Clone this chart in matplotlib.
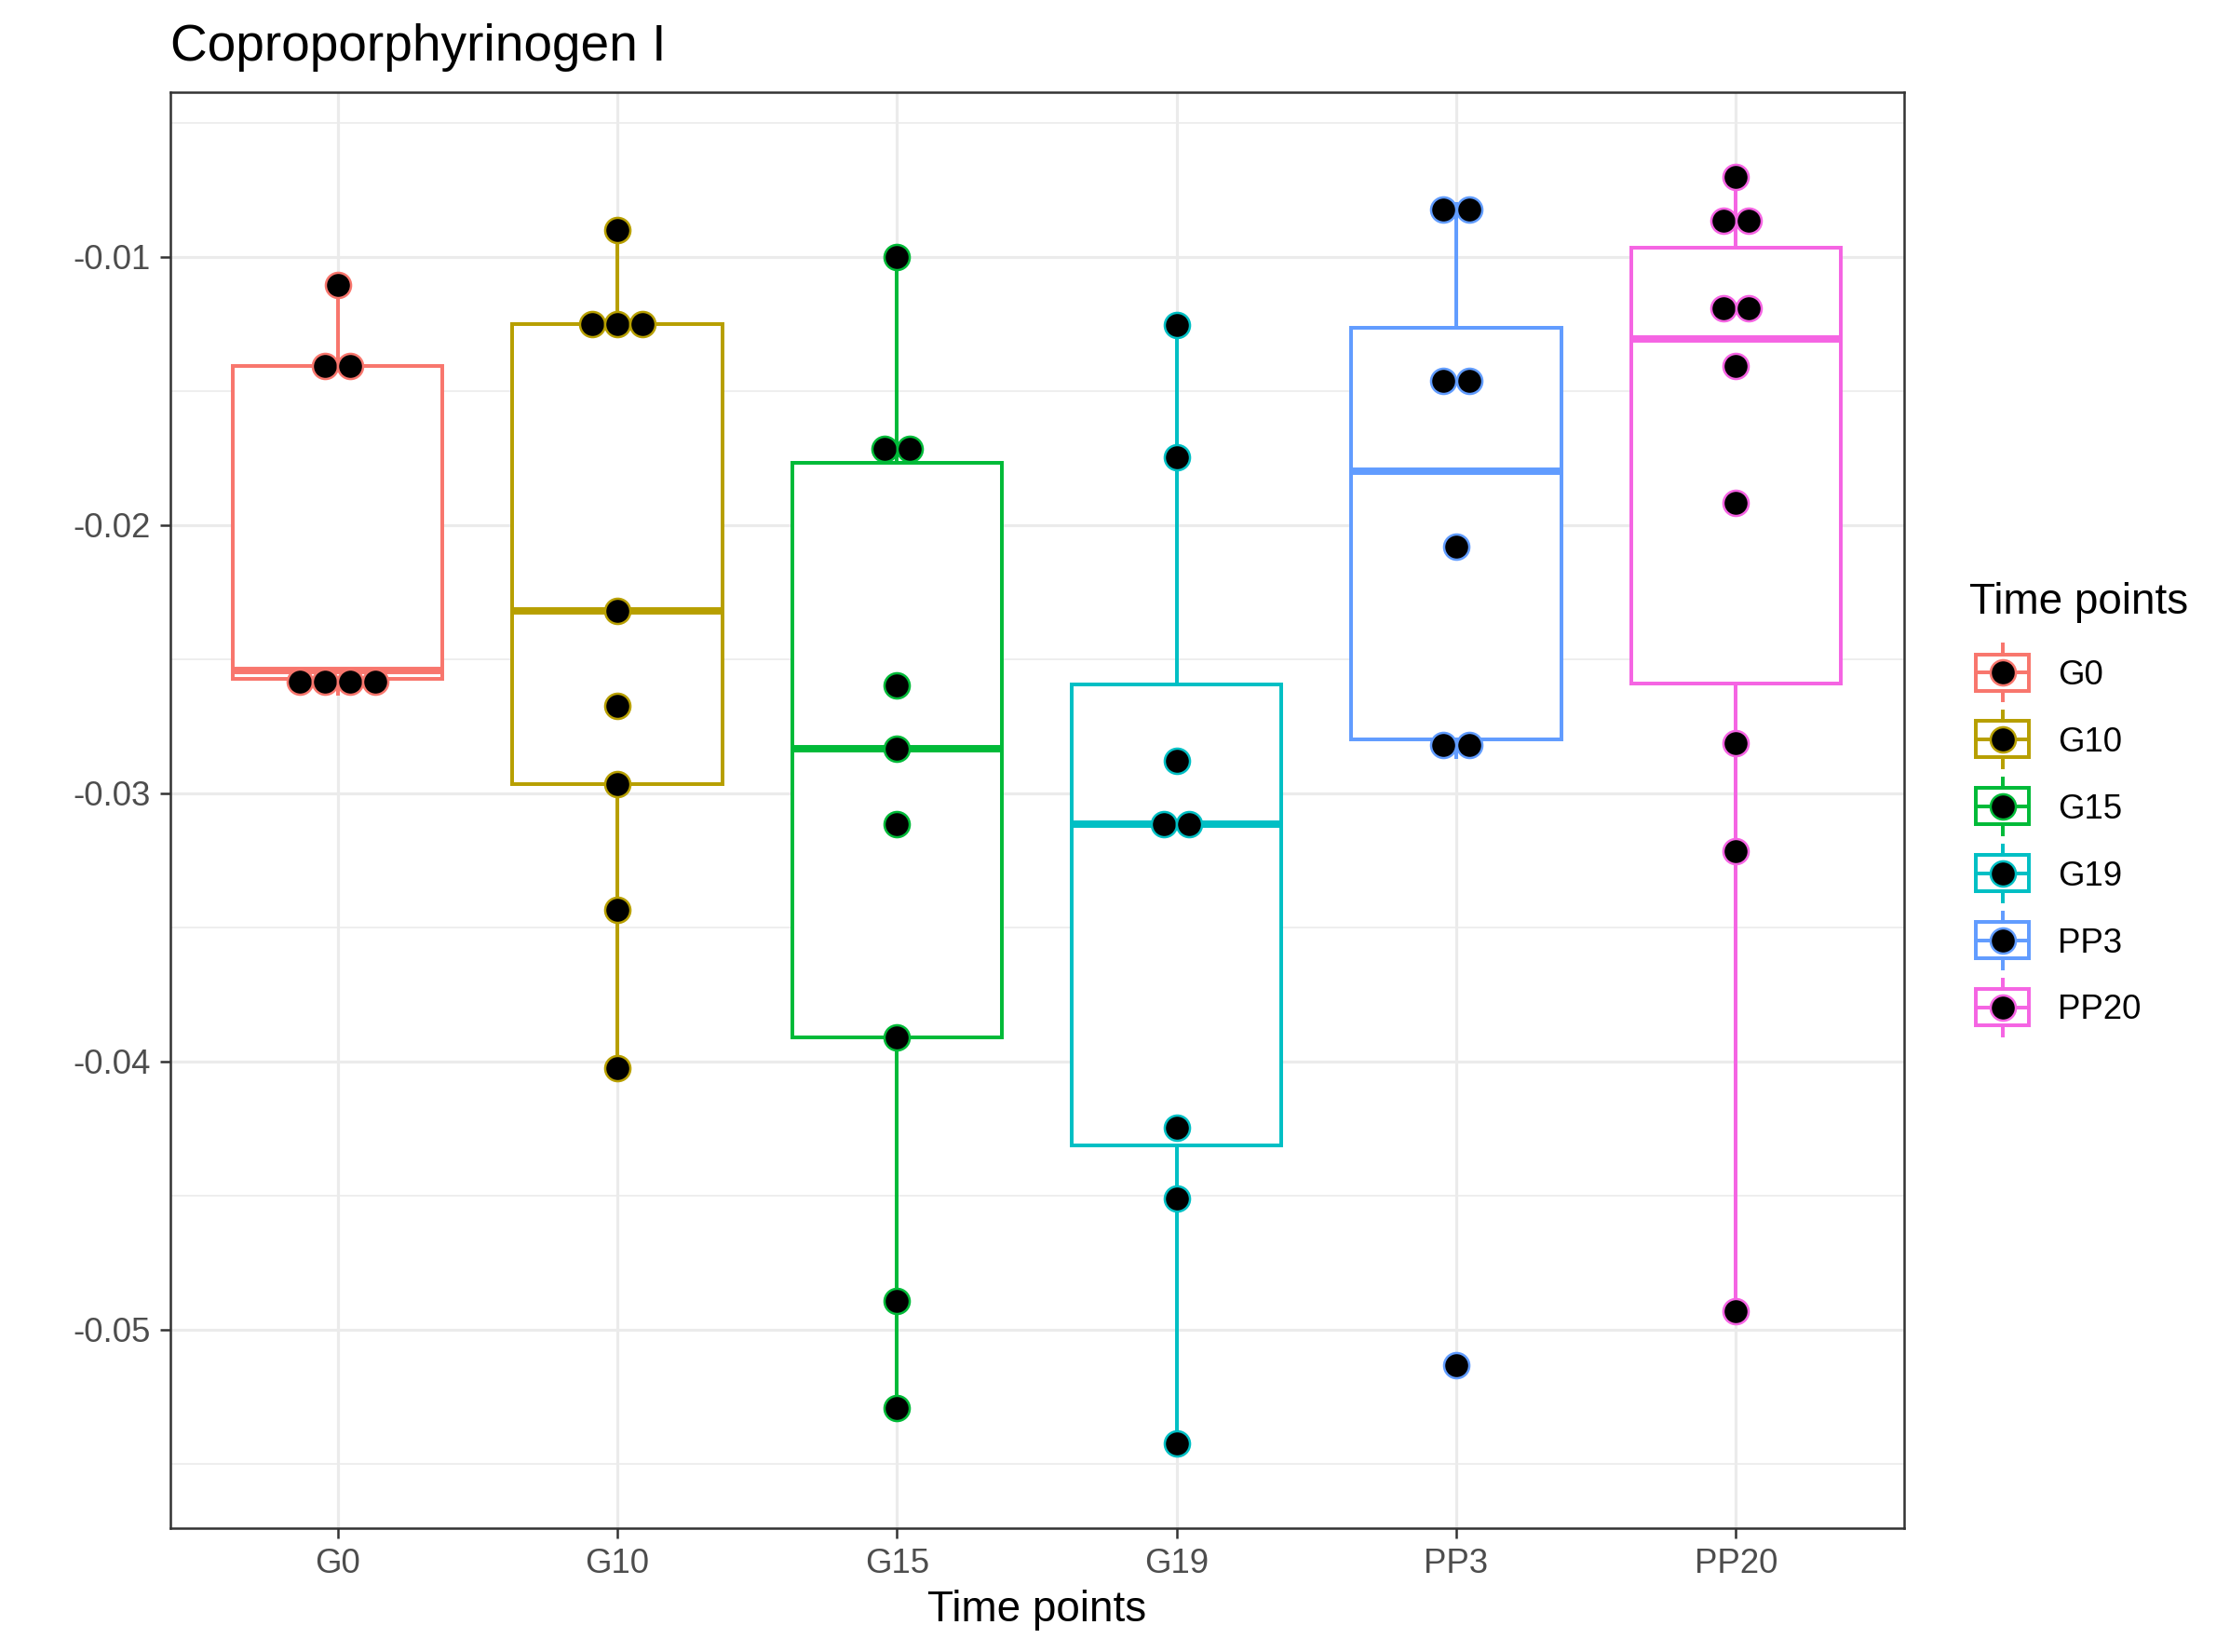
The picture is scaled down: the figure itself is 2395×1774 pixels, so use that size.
import numpy as np
import matplotlib
matplotlib.use("Agg")
import matplotlib.pyplot as plt
from matplotlib.patches import Rectangle

plt.rcParams['font.family'] = ['Liberation Sans', 'DejaVu Sans']

# DATA
groups = ["G0", "G10", "G15", "G19", "PP3", "PP20"]
vals_g0 = [-0.0263, -0.0258, -0.02566, -0.02542, -0.0141, -0.01402, -0.01104]
vals_g10 = [-0.04024, -0.03435, -0.02968, -0.02676, -0.02321, -0.0126, -0.0125, -0.0124, -0.00899]
vals_g15 = [-0.05292, -0.04894, -0.03912, -0.03117, -0.02836, -0.02597, -0.01769, -0.01663, -0.0100]
vals_g19 = [-0.05424, -0.04512, -0.04247, -0.0313, -0.0310, -0.02878, -0.01748, -0.01255]
vals_pp3 = [-0.05133, -0.02864, -0.02776, -0.02082, -0.0152, -0.01404, -0.00848, -0.00802]
vals_pp20 = [-0.04931, -0.03218, -0.02814, -0.01918, -0.01408, -0.01208, -0.01174, -0.00899, -0.00835, -0.00703]
colors = ["#F8766D", "#B79F00", "#00BA38", "#00BFC4", "#619CFF", "#F564E3"]
y_ticks = [-0.05, -0.04, -0.03, -0.02, -0.01]
y_tick_labels = ["-0.05", "-0.04", "-0.03", "-0.02", "-0.01"]
y_minor = [-0.055, -0.045, -0.035, -0.025, -0.015, -0.005]
title = "Coproporphyrinogen I"
x_title = "Time points"
legend_title = "Time points"

# STYLE
W, H, DPI = 2395, 1774, 300
BINWIDTH = 0.00147     # dotplot bin width (y units)
DOT_DIAM = 0.00094     # dot diameter (y units)
BOX_W = 0.75
LW = 0.95


def dot_bins(values, binwidth):
    # dotdensity style binning: bin starts at smallest value, center = mid of range
    v = sorted(values)
    out = []
    i = 0
    while i < len(v):
        j = i
        while j < len(v) and v[j] < v[i] + binwidth:
            j += 1
        chunk = v[i:j]
        out.append(((chunk[0] + chunk[-1]) / 2, len(chunk)))
        i = j
    return out


data = [vals_g0, vals_g10, vals_g15, vals_g19, vals_pp3, vals_pp20]
allv = np.concatenate(data)
lo = allv.min() - BINWIDTH / 2
hi = allv.max() + BINWIDTH / 2
pad = 0.05 * (hi - lo)
ylim = (lo - pad, hi + pad)
xlim = (0.4, len(groups) + 0.6)

fig = plt.figure(figsize=(W / DPI, H / DPI), dpi=DPI)
px_l, px_r, px_t, px_b = 182.5, 2044.5, 99, 1641
ax = fig.add_axes([px_l / W, 1 - px_b / H, (px_r - px_l) / W, (px_b - px_t) / H])
ax.set_xlim(*xlim)
ax.set_ylim(*ylim)

pos = np.arange(1, len(groups) + 1)
bp = ax.boxplot(data, positions=pos, widths=BOX_W, patch_artist=True,
                showcaps=False, showfliers=False, whis=1.5, manage_ticks=False)
for i, c in enumerate(colors):
    bp['boxes'][i].set(facecolor='white', edgecolor=c, linewidth=LW, zorder=2)
    bp['medians'][i].set(color=c, linewidth=LW * 2, zorder=2.5, solid_capstyle='butt')
    for w in bp['whiskers'][2 * i:2 * i + 2]:
        w.set(color=c, linewidth=LW, zorder=1.9)

# dots
px_per_y = (px_b - px_t) / (ylim[1] - ylim[0])
px_per_x = (px_r - px_l) / (xlim[1] - xlim[0])
diam_px = DOT_DIAM * px_per_y
diam_pt = diam_px * 72 / DPI
dx = diam_px / px_per_x
for i, (vals, c) in enumerate(zip(data, colors)):
    for center, n in dot_bins(vals, BINWIDTH):
        offs = (np.arange(n) - (n - 1) / 2) * dx
        ax.scatter(pos[i] + offs, [center] * n, s=diam_pt ** 2, c='black',
                   edgecolors=c, linewidths=0.6, zorder=4)

ax.set_xticks(pos, groups)
ax.set_yticks(y_ticks, y_tick_labels)
ax.set_yticks(y_minor, minor=True)
ax.set_axisbelow(True)
ax.grid(which='major', color='#EBEBEB', linewidth=0.75)
ax.grid(which='minor', axis='y', color='#EBEBEB', linewidth=0.4)
ax.tick_params(axis='both', which='major', length=2.75, width=0.6, color='#333333',
               labelsize=8.8, labelcolor='#4D4D4D', pad=2.2)
ax.tick_params(axis='y', which='minor', length=0)
for s in ax.spines.values():
    s.set_color('#333333')
    s.set_linewidth(0.6)
    s.set_zorder(5)

fig.text(182.7 / W, 1 - 65 / H, title, fontsize=13.2, ha='left', va='baseline')
fig.text((px_l + px_r) / 2 / W, 1 - 1741 / H, x_title, fontsize=11, ha='center', va='baseline')

# legend drawn in pixel coords
lg = fig.add_axes([0, 0, 1, 1])
lg.set_xlim(0, W)
lg.set_ylim(H, 0)
lg.axis('off')
lg.text(2115, 659, legend_title, fontsize=11, ha='left', va='baseline')
kx = 2150.5
for i, (g, c) in enumerate(zip(groups, colors)):
    yc = 722 + 71.9 * i
    lg.add_patch(Rectangle((kx - 28.5, yc - 19.5), 57, 39, facecolor='white', edgecolor=c, linewidth=LW))
    lg.plot([kx, kx], [yc - 30, yc - 19.5], color=c, linewidth=LW)
    lg.plot([kx, kx], [yc + 19.5, yc + 30], color=c, linewidth=LW)
    lg.plot([kx - 28.5, kx + 28.5], [yc, yc], color=c, linewidth=LW)
    lg.scatter([kx], [yc], s=diam_pt ** 2, c='black', edgecolors=c, linewidths=0.6, zorder=4)
    lg.text(2210, yc + 13, g, fontsize=8.8, ha='left', va='baseline')

fig.savefig("out.png", dpi=DPI)
